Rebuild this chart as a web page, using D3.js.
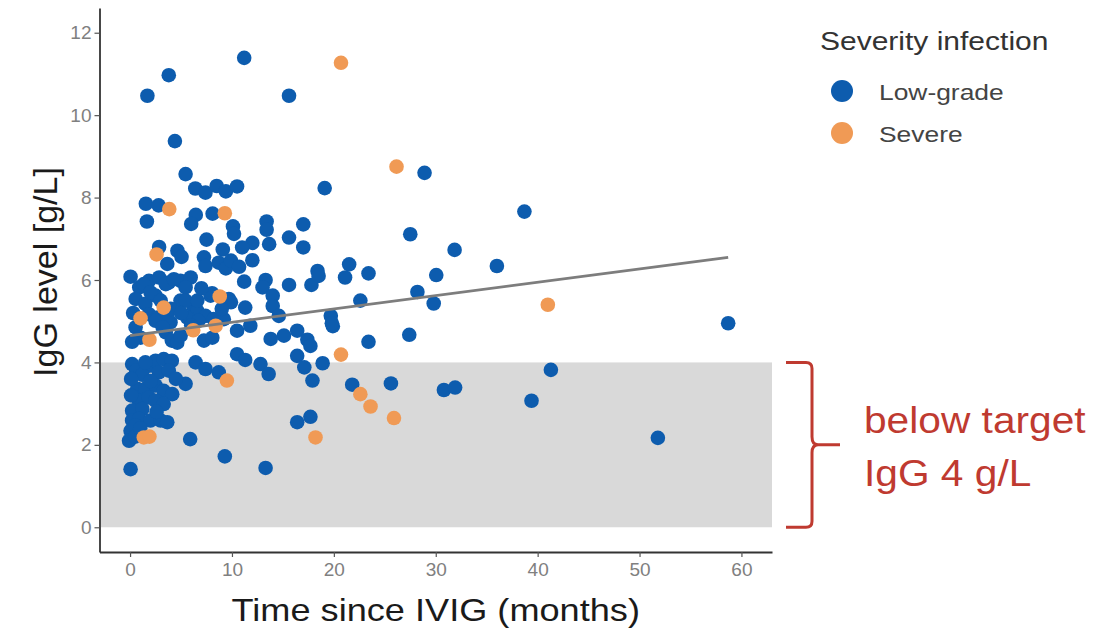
<!DOCTYPE html>
<html><head><meta charset="utf-8">
<script src="https://cdn.jsdelivr.net/npm/d3@7"></script>
<style>body{margin:0;background:#fff}</style>
</head><body>
<svg id="c" width="1117" height="632"></svg>
<script>
// ---- data (x = months since IVIG, y = IgG g/L) ----
const lowGrade = [
[11.2,11.39],[3.8,10.97],[1.7,10.47],[15.6,10.47],[4.4,9.37],[5.45,8.57],[28.9,8.6],
[6.4,8.22],[7.4,8.12],[8.5,8.28],[9.4,8.15],[10.5,8.27],[19.1,8.23],
[1.55,7.85],[2.8,7.81],[1.65,7.42],[6.45,7.58],[6.0,7.36],[8.1,7.61],[10.1,7.3],[10.2,7.12],[13.4,7.42],[13.4,7.22],[17.0,7.35],[27.5,7.11],[38.7,7.66],
[7.5,6.98],[15.6,7.03],[17.0,6.79],[13.65,6.87],[12.0,6.9],[11.0,6.79],[9.1,6.74],[2.85,6.8],[4.65,6.71],[5.05,6.56],[3.65,6.39],[7.25,6.55],[7.4,6.34],[8.7,6.42],[9.4,6.28],[9.9,6.47],[12.0,6.48],[10.7,6.32],[18.4,6.22],[21.5,6.38],[21.1,6.06],[23.4,6.16],[30.05,6.12],[31.85,6.73],[36.0,6.34],
[0.05,6.08],[0.9,5.82],[0.55,5.54],[1.85,5.98],[2.85,6.06],[3.8,5.94],[4.95,5.98],[5.95,6.06],[5.45,5.82],[2.5,5.62],[1.5,5.42],[4.95,5.5],[6.25,5.33],[7.9,5.62],[9.7,5.54],[11.2,5.96],[13.3,6.0],[13.0,5.82],[14.0,5.62],[15.6,5.88],[17.8,5.88],[18.5,6.1],[22.6,5.5],[9.9,5.46],[11.3,5.33],[14.0,5.37],[14.6,5.13],[19.7,5.13],[19.9,4.88],[28.2,5.71],[29.8,5.43],[27.4,4.67],[58.7,4.95],
[1.35,5.9],[2.0,5.7],[3.5,5.9],[4.3,6.02],[5.45,5.5],[6.6,5.25],[7.4,5.13],[8.2,5.05],[9.2,5.05],[8.05,5.68],[6.6,5.5],[1.85,5.17],[2.67,5.09],[3.97,4.97],[3.65,5.09],[5.6,5.09],[6.7,5.01],[0.54,4.85],[1.03,4.6],
[3.5,4.73],[4.1,4.53],[4.63,4.48],[4.96,4.65],[7.25,4.53],[8.07,4.6],[2.5,5.01],[3.2,4.85],[10.5,4.77],[11.8,4.89],[13.8,4.57],[15.1,4.65],[16.4,4.77],[17.4,4.55],[17.7,4.40],[19.8,4.95],[23.4,4.5],[0.3,5.2],[0.2,4.5],[7.0,5.8],[4.0,5.3],[6.0,4.9],[9.0,5.3],[5.0,5.2],[3.0,5.5],
[10.5,4.2],[11.3,4.06],[12.8,3.96],[13.6,3.72],[16.4,4.16],[17.1,3.88],[18.9,3.98],[17.9,3.56],[21.8,3.46],[25.6,3.49],[30.8,3.33],[31.9,3.39],[41.3,3.82],[39.4,3.07],[51.8,2.17],[16.4,2.55],[17.7,2.68],[13.3,1.44],[9.3,1.72],[5.9,2.14],[0.05,1.41],
[6.43,4.0],[7.4,3.84],[8.7,3.76],[5.45,3.48],
[0.2,3.96],[0.6,3.8],[1.85,3.92],[2.5,4.04],[3.3,4.08],[4.1,4.04],[2.83,3.76],[3.8,3.8],[1.2,3.7],[0.7,3.36],[1.5,3.36],[2.5,3.44],[3.3,3.31],[4.14,3.23],[0.87,3.07],[1.85,3.15],[0.2,2.83],[1.2,2.87],[2.5,3.07],[3.3,2.99],[0.2,2.59],[0.87,2.63],[2.0,2.59],[3.0,2.59],[3.65,2.55],[0.05,2.34],[0.54,2.47],[-0.1,2.1],[0.5,2.2],[1.0,2.4],[2.6,2.8],[4.5,3.6],[0.1,3.2],[0.1,3.6],[1.5,4.0],[2.0,3.55]
];
const severe = [
[20.7,11.27],[26.15,8.75],[3.85,7.72],[9.3,7.62],[2.6,6.62],[8.8,5.6],[3.3,5.33],[1.03,5.07],[1.9,4.55],[6.2,4.78],[8.4,4.89],[20.7,4.19],[41.0,5.40],[9.5,3.56],[22.6,3.23],[23.6,2.93],[25.9,2.65],[18.2,2.18],[1.35,2.18],[1.9,2.2]
];
const xTicks = [0,10,20,30,40,50,60];
const yTicks = [0,2,4,6,8,10,12];
const trendX = [0, 58.7];
const trendY = [4.65, 6.55];
const targetBand = [0, 4];
const legendLabels = ["Low-grade","Severe"];
const legendTitle = "Severity infection";
const xTitle = "Time since IVIG (months)";
const yTitle = "IgG level [g/L]";
const noteLines = ["below target","IgG 4 g/L"];

// ---- drawing ----
const font = "'Liberation Sans', Arial, Helvetica, sans-serif";
const svg = d3.select("#c");
const x = d3.scaleLinear().domain([-3,63]).range([99.5,772]);
const y = d3.scaleLinear().domain([-0.6,12.6]).range([552,8]);
const color = d3.scaleOrdinal().domain(legendLabels).range(["#0d5cae","#f09a55"]);

// target band
svg.append("rect")
  .attr("x", x.range()[0]+1.5).attr("y", y(targetBand[1]))
  .attr("width", x.range()[1]-x.range()[0]-1.5).attr("height", y(targetBand[0])-y(targetBand[1]))
  .attr("fill","#d9d9d9");

// axes
const yAxis = svg.append("g").attr("transform",`translate(${x.range()[0]},0)`)
  .call(d3.axisLeft(y).tickValues(yTicks).tickSize(5).tickSizeOuter(0).tickPadding(3));
const xAxis = svg.append("g").attr("transform",`translate(0,${y.range()[0]})`)
  .call(d3.axisBottom(x).tickValues(xTicks).tickSize(5).tickSizeOuter(0).tickPadding(6));
[xAxis,yAxis].forEach(g=>{
  g.select(".domain").attr("stroke","#333").attr("stroke-width",1.8);
  g.selectAll(".tick line").attr("stroke","#555").attr("stroke-width",1.2);
  g.selectAll(".tick text").attr("fill","#808080").style("font-family",font).style("font-size","19px");
});

// points
const pts = lowGrade.map(d=>({x:d[0],y:d[1],g:legendLabels[0]}))
  .concat(severe.map(d=>({x:d[0],y:d[1],g:legendLabels[1]})));
svg.append("g").selectAll("circle").data(pts).join("circle")
  .attr("cx",d=>x(d.x)).attr("cy",d=>y(d.y)).attr("r",7.3)
  .attr("fill",d=>color(d.g));

// trend line
svg.append("path")
  .datum(trendX.map((v,i)=>[v,trendY[i]]))
  .attr("d", d3.line().x(d=>x(d[0])).y(d=>y(d[1])))
  .attr("fill","none").attr("stroke","#7d7d7d").attr("stroke-width",2.8);

// axis titles
svg.append("text").attr("transform",`translate(${(x.range()[0]+x.range()[1])/2},621) scale(1.13,1)`)
  .attr("text-anchor","middle").style("font-family",font).style("font-size","32px").attr("fill","#1a1a1a").text(xTitle);
svg.append("text").attr("transform",`translate(57,272) rotate(-90)`)
  .attr("text-anchor","middle").style("font-family",font).style("font-size","34px").attr("fill","#1a1a1a").text(yTitle);

// legend
svg.append("text").attr("transform","translate(820,50) scale(1.2,1)")
  .style("font-family",font).style("font-size","25px").attr("fill","#333").text(legendTitle);
legendLabels.forEach((lab,i)=>{
  const cy = 91 + i*42;
  svg.append("circle").attr("cx",842).attr("cy",cy).attr("r",11).attr("fill",color(lab));
  svg.append("text").attr("transform",`translate(879,${cy+9}) scale(1.2,1)`)
    .style("font-family",font).style("font-size","22px").attr("fill","#444").text(lab);
});

// bracket + annotation
const red = "#bf3a30";
const yt = y(targetBand[1]), yb = y(targetBand[0]), ym = (yt+yb)/2;
const bx = 812;
svg.append("path")
  .attr("d",`M786,${yt} H${bx-6} Q${bx},${yt} ${bx},${yt+6} V${ym-8} Q${bx},${ym} ${bx+6},${ym} H840 M${bx+6},${ym} Q${bx},${ym} ${bx},${ym+8} V${yb-6} Q${bx},${yb} ${bx-6},${yb} H786`)
  .attr("fill","none").attr("stroke",red).attr("stroke-width",3);
noteLines.forEach((t,i)=>{
  svg.append("text").attr("transform",`translate(864,${433+i*53}) scale(1.13,1)`)
    .style("font-family",font).style("font-size","36px").attr("fill",red).text(t);
});
</script>
</body></html>
